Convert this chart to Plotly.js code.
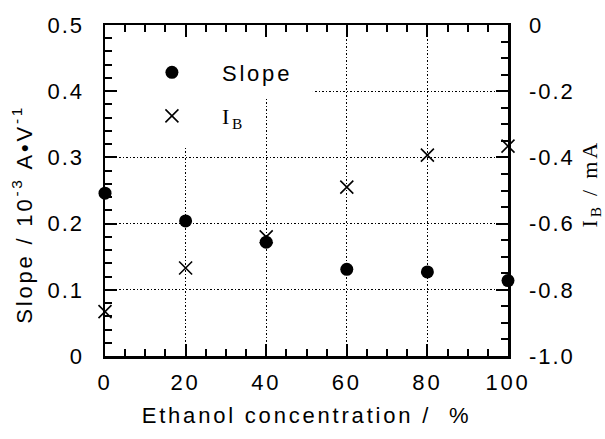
<!DOCTYPE html>
<html>
<head>
<meta charset="utf-8">
<script src="https://cdn.plot.ly/plotly-3.0.1.min.js"></script>
<style>
html,body{margin:0;padding:0;background:#fff;}
#chart{width:605px;height:439px;}
svg text{letter-spacing:2.8px;}
svg .ytick text, svg .y2tick text{letter-spacing:2px;}
</style>
</head>
<body>
<div id="chart"></div>
<script>
// Data
const concentration = [0, 20, 40, 60, 80, 100];
const slopeValues = [0.246, 0.204, 0.172, 0.131, 0.127, 0.114];
const ibValues = [-0.866, -0.734, -0.640, -0.490, -0.393, -0.366];
const xTicks = [0, 20, 40, 60, 80, 100];
const yTicks = [0, 0.1, 0.2, 0.3, 0.4, 0.5];
const yTickLabels = ['0', '0.1', '0.2', '0.3', '0.4', '0.5'];
const y2Ticks = [0, -0.2, -0.4, -0.6, -0.8, -1.0];
const y2TickLabels = ['0', '-0.2', '-0.4', '-0.6', '-0.8', '-1.0'];
const leftTitle = 'Slope / 10<sup>-3</sup> A•V<sup>-1</sup>';
const rightTitle = 'I<sub>B</sub> / mA';
const xTitle = 'Ethanol concentration /  %';

const SANS = 'Liberation Sans, Arial, Helvetica, sans-serif';
const SERIF = 'Liberation Serif, Times New Roman, serif';

const traces = [
  {
    x: concentration, y: slopeValues, type: 'scatter', mode: 'markers',
    name: 'Slope', legendgroup: 'a',
    marker: {symbol: 'circle', size: 13, color: '#000'},
    cliponaxis: false, yaxis: 'y'
  },
  {
    x: concentration, y: ibValues, type: 'scatter', mode: 'markers',
    name: '<span style="font-family:' + SERIF + '">I<sub>B</sub></span>', legendgroup: 'b',
    marker: {symbol: 'x-thin-open', size: 13, color: '#000', line: {width: 1.6, color: '#000'}},
    cliponaxis: false, yaxis: 'y2'
  }
];

const layout = {
  width: 605, height: 439,
  margin: {l: 105, r: 97, t: 25, b: 83, pad: 0},
  paper_bgcolor: '#fff', plot_bgcolor: '#fff',
  font: {family: SANS, size: 22, color: '#000'},
  showlegend: true,
  legend: {
    x: 0.042, y: 0.92, xanchor: 'left', yanchor: 'top',
    bgcolor: 'rgba(0,0,0,0)', borderwidth: 0,
    font: {family: SANS, size: 22, color: '#000'},
    tracegroupgap: 12, itemwidth: 90
  },
  xaxis: {
    range: [0, 100], tickmode: 'array', tickvals: xTicks, ticktext: xTicks.map(String),
    ticks: 'inside', ticklen: 12, tickwidth: 2, tickcolor: '#000',
    minor: {dtick: 5, ticks: 'inside', ticklen: 7, tickwidth: 2, tickcolor: '#000', showgrid: false},
    showline: true, linewidth: 2.5, linecolor: '#000', mirror: 'ticks',
    showgrid: true, gridcolor: '#000', gridwidth: 1, griddash: '1.5px,2px',
    zeroline: false, ticklabelstandoff: 5,
    tickfont: {family: SANS, size: 22},
    title: {text: xTitle, font: {family: SANS, size: 22}, standoff: 14}
  },
  yaxis: {
    range: [0, 0.5], tickmode: 'array', tickvals: yTicks, ticktext: yTickLabels,
    ticks: 'inside', ticklen: 12, tickwidth: 2, tickcolor: '#000',
    minor: {dtick: 0.02, ticks: 'inside', ticklen: 7, tickwidth: 2, tickcolor: '#000', showgrid: false},
    showline: true, linewidth: 2.5, linecolor: '#000', mirror: false,
    showgrid: true, gridcolor: '#000', gridwidth: 1, griddash: '1.5px,2px',
    zeroline: false, ticklabelstandoff: 14,
    tickfont: {family: SANS, size: 22}
  },
  yaxis2: {
    overlaying: 'y', side: 'right',
    range: [-1.0, 0], tickmode: 'array', tickvals: y2Ticks, ticktext: y2TickLabels,
    ticks: 'inside', ticklen: 12, tickwidth: 2, tickcolor: '#000',
    minor: {dtick: 0.05, ticks: 'inside', ticklen: 7, tickwidth: 2, tickcolor: '#000', showgrid: false},
    showline: true, linewidth: 2.5, linecolor: '#000',
    showgrid: false, zeroline: false, ticklabelstandoff: 14,
    tickfont: {family: SANS, size: 22}
  },
  annotations: [
    {text: leftTitle, xref: 'paper', yref: 'paper', x: -0.206, y: 0.43,
     xanchor: 'center', yanchor: 'middle', textangle: -90, showarrow: false,
     font: {family: SANS, size: 22, color: '#000'}},
    {text: rightTitle, xref: 'paper', yref: 'paper', x: 1.205, y: 0.52,
     xanchor: 'center', yanchor: 'middle', textangle: -90, showarrow: false,
     font: {family: SERIF, size: 22, color: '#000'}}
  ],
  shapes: [
    {type: 'rect', xref: 'x', yref: 'y', x0: 0, x1: 51.6, y0: 0.39, y1: 0.5,
     fillcolor: '#fff', line: {width: 0}, layer: 'between'},
    {type: 'rect', xref: 'x', yref: 'y', x0: 0, x1: 30, y0: 0.316, y1: 0.5,
     fillcolor: '#fff', line: {width: 0}, layer: 'between'}
  ]
};

Plotly.newPlot('chart', traces, layout, {displayModeBar: false, staticPlot: true});
</script>
</body>
</html>
